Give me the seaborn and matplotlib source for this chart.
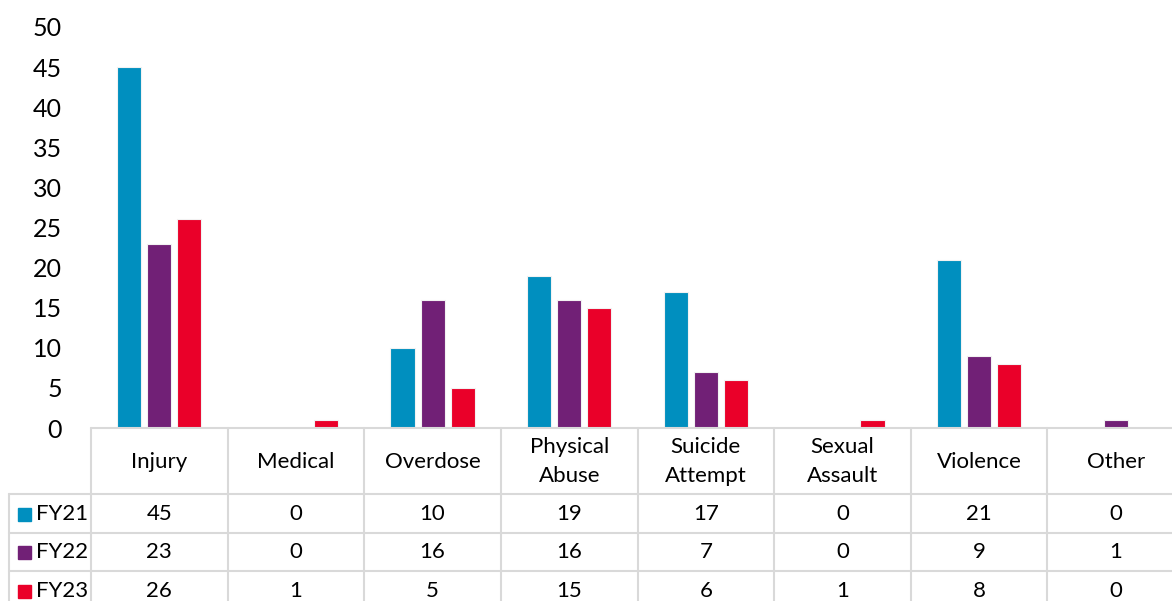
import matplotlib
matplotlib.use("Agg")
import matplotlib.pyplot as plt
import matplotlib.transforms as mtransforms
from matplotlib.lines import Line2D
from matplotlib.patches import Rectangle
import seaborn as sns
import pandas as pd

categories = ["Injury", "Medical", "Overdose", "Physical\nAbuse", "Suicide\nAttempt",
              "Sexual\nAssault", "Violence", "Other"]
series_names = ["FY21", "FY22", "FY23"]
fy21 = [45, 0, 10, 19, 17, 0, 21, 0]
fy22 = [23, 0, 16, 16, 7, 0, 9, 1]
fy23 = [26, 1, 5, 15, 6, 1, 8, 0]
colors = ["#008FBF", "#712076", "#EA0029"]
yticks = [0, 5, 10, 15, 20, 25, 30, 35, 40, 45, 50]

values = [fy21, fy22, fy23]
rows = []
for name, vals in zip(series_names, values):
    for c, v in zip(categories, vals):
        rows.append({"Category": c, "Year": name, "Count": v})
df = pd.DataFrame(rows)

sns.set_theme(style="white")
plt.rcParams["font.family"] = ["Lato", "DejaVu Sans"]

W, H = 1172, 601
fig = plt.figure(figsize=(W / 100, H / 100), dpi=100)
fig.patch.set_facecolor("white")
ax = fig.add_axes([91 / W, (H - 428) / H, (1184 - 91) / W, (428 - 27) / H])
ax.set_facecolor("none")

sns.barplot(data=df, x="Category", y="Count", hue="Year", palette=colors,
            saturation=1, width=0.66, gap=0.2, ax=ax, edgecolor="#F2F2F2",
            linewidth=0.8, legend=False, zorder=3)

ax.set_xlim(-0.5, len(categories) - 0.5)
ax.set_ylim(0, 50)
ax.set_yticks(yticks)
ax.set_yticklabels([str(t) for t in yticks], fontsize=18, color="black")
ax.tick_params(axis="y", length=0, pad=21)
ax.set_xticks([])
ax.set_xlabel("")
ax.set_ylabel("")
for s in ax.spines.values():
    s.set_visible(False)

# pixel transform (y measured from top)
px = mtransforms.Affine2D().scale(1, -1).translate(0, H)
colx = mtransforms.blended_transform_factory(ax.transData, px)

gray = "#D9D9D9"
lw = 1.5

def hline(x0, x1, y):
    fig.add_artist(Line2D([x0, x1], [y, y], transform=px, color=gray, lw=lw, zorder=1))

def vline(x, y0, y1, trans):
    fig.add_artist(Line2D([x, x], [y0, y1], transform=trans, color=gray, lw=lw, zorder=1))

row_lines = [494, 533, 571, 610]
hline(91, 1200, 428)
for y in row_lines:
    hline(9, 1200, y)
for i in range(len(categories) + 1):
    vline(i - 0.5, 428, 615, colx)
vline(9, 494, 615, px)

fs = 16
# category labels
for i, c in enumerate(categories):
    fig.text(i, 461.5, c, transform=colx, ha="center", va="center",
             fontsize=fs, color="black", linespacing=1.55)

# data rows
row_centers = [514, 552.5, 591]
for r, (name, vals, col) in enumerate(zip(series_names, values, colors)):
    yc = row_centers[r]
    fig.add_artist(Rectangle((18, yc + 6.5), 13, -13, transform=px, color=col))
    fig.text(36, yc, name, transform=px, ha="left", va="center",
             fontsize=fs, color="black")
    for i, v in enumerate(vals):
        fig.text(i, yc, str(v), transform=colx, ha="center", va="center",
                 fontsize=fs, color="black")

fig.savefig("out.png", dpi=100)
